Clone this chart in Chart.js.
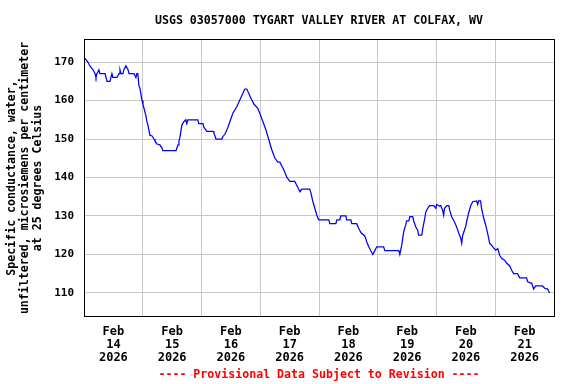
<!DOCTYPE html>
<html>
<head>
<meta charset="utf-8">
<script src="https://cdn.jsdelivr.net/npm/chart.js@4/dist/chart.umd.min.js"></script>
<style>
  html, body { margin: 0; padding: 0; background: #fff; }
  #wrap { width: 576px; height: 384px; }
</style>
</head>
<body>
<div id="wrap"><canvas id="c" width="576" height="384"></canvas></div>
<script>
// Hours since Feb 14 2026 00:00
const hours = [0,0.8,1.6,2.4,3.7,4.5,4.9,5.3,6.1,6.5,8.6,9.0,9.4,10.6,11.0,11.4,11.8,13.5,14.3,14.7,15.1,15.9,16.3,17.1,18.0,18.4,20.4,21.2,21.6,22.0,22.4,22.9,23.3,23.7,24.1,24.5,24.9,25.3,25.7,26.1,26.5,26.9,27.8,28.6,29.0,29.8,31.0,31.8,32.2,37.6,38.4,38.8,39.2,40.0,40.8,41.6,42.0,42.4,46.5,46.9,48.6,49.0,50.2,52.7,53.1,53.9,56.3,56.7,57.6,58.4,59.6,60.8,62.4,63.7,64.9,65.7,66.5,67.3,68.2,69.4,71.0,71.8,73.1,74.3,75.5,76.7,78.0,79.2,80.0,81.6,82.9,84.1,86.1,86.9,88.2,89.0,92.2,92.7,93.5,94.3,95.1,95.9,100.0,100.4,102.9,103.3,104.5,104.9,107.0,107.3,109.0,109.4,111.4,112.2,113.1,114.7,115.5,116.3,118.0,118.8,119.6,122.4,122.9,128.6,129.0,129.8,130.6,131.4,131.8,132.7,133.1,134.3,134.7,135.5,136.3,136.7,138.0,138.4,139.2,139.6,140.4,141.2,142.9,143.7,144.1,145.3,145.7,146.5,146.9,147.3,148.2,149.0,149.4,150.2,151.0,152.2,153.1,153.9,154.3,154.7,155.9,156.3,157.1,158.0,158.8,160.4,160.8,161.2,162.0,162.4,163.3,164.1,164.9,165.7,166.5,167.3,168.2,169.0,169.8,170.6,171.8,172.7,173.9,174.7,175.5,177.1,178.0,180.8,181.2,182.9,183.7,184.5,187.3,188.2,189.4,190.2];
// Specific conductance, uS/cm at 25 C
const conductance = [171.2,170.6,170,169,168,167,166,167,168,167,167,166,165,165,166,167,166,166,167,168,167,167,168,169,168,167,167,166,167,167,164,163,161.5,160,159,158,157,156,154.5,153.7,152.4,151,150.8,150,149.5,148.7,148.5,147.7,147,147,148.5,149.5,150.5,153.7,154.5,155,154,155,155,154,154,153,152,152,151.5,150,150,150.6,151.3,152.4,154.5,156.7,158.4,160.2,161.9,163,163,161.9,160.6,159.1,158,156.7,154.5,152.4,149.8,147.2,145,144,144,142,140,139,139,138,136.3,137,137,136,133.7,132,130.2,129,129,128,128,129,129,130,130,129,129,128,128,126.8,125.7,124.8,123.3,122,120,121,122,122,121,121,120,122.4,125.9,127.6,128.7,128.7,129.8,129.8,128.7,127.2,126.3,125,125,126.8,129.4,131,132,132.7,132.7,132,133,132.5,132.7,131.5,130.2,132,132.7,132.7,131.5,129.8,128.9,127.2,125.5,124.2,122.9,125,127.2,128.5,130.7,132.7,133.7,133.9,133,133.9,133.9,132,129.4,127.6,125.5,122.9,122.4,121.7,121.1,121.5,119.8,119,118.5,117.7,117,115.9,115,115,113.9,113.9,112.9,112.5,111,111.8,111.8,111.2,111,110];

const xLabelHours = [12,36,60,84,108,132,156,180];
const xLabels = [["Feb","14","2026"],["Feb","15","2026"],["Feb","16","2026"],["Feb","17","2026"],["Feb","18","2026"],["Feb","19","2026"],["Feb","20","2026"],["Feb","21","2026"]];
const yTicks = [110,120,130,140,150,160,170];

const titleText = "USGS 03057000 TYGART VALLEY RIVER AT COLFAX, WV";
const yTitleLines = ["Specific conductance, water,", "unfiltered, microsiemens per centimeter", "at 25 degrees Celsius"];
const footerText = "---- Provisional Data Subject to Revision ----";

const MONO = "'DejaVu Sans Mono', 'Liberation Mono', monospace";

const extraText = {
  id: 'extraText',
  afterDraw(chart) {
    const ctx = chart.ctx;
    const a = chart.chartArea;
    ctx.save();
    // border
    ctx.strokeStyle = '#000';
    ctx.lineWidth = 1;
    ctx.strokeRect(Math.round(a.left) + 0.5, Math.round(a.top) + 0.5, Math.round(a.right - a.left), Math.round(a.bottom - a.top));
    // title
    ctx.fillStyle = '#000';
    ctx.font = "bold 11.6px " + MONO;
    ctx.textAlign = 'center';
    ctx.textBaseline = 'middle';
    ctx.fillText(titleText, 319, 21);
    // y title
    ctx.save();
    ctx.translate(0, 178);
    ctx.rotate(-Math.PI / 2);
    ctx.font = "bold 11.6px " + MONO;
    const xs = [12, 25, 38];
    yTitleLines.forEach((t, i) => ctx.fillText(t, 0, xs[i]));
    ctx.restore();
    // footer
    ctx.fillStyle = '#ff0000';
    ctx.font = "bold 11.6px " + MONO;
    ctx.fillText(footerText, 319, 375);
    ctx.restore();
  }
};

new Chart(document.getElementById('c'), {
  type: 'line',
  data: {
    datasets: [{
      data: hours.map((h, i) => ({ x: h, y: conductance[i] })),
      borderColor: '#0000ff',
      borderWidth: 1.25,
      pointRadius: 0,
      fill: false,
      tension: 0
    }]
  },
  options: {
    responsive: false,
    animation: false,
    events: [],
    layout: { padding: { left: 0, right: 22, top: 39, bottom: 0 } },
    plugins: { legend: { display: false }, tooltip: { enabled: false }, title: { display: false } },
    scales: {
      x: {
        type: 'linear',
        min: 0,
        max: 192,
        afterBuildTicks: s => { s.ticks = xLabelHours.map(v => ({ value: v })); },
        afterFit: s => { s.height = 68; },
        grid: { color: '#c8c8c8', lineWidth: 1, offset: true, drawTicks: false },
        border: { display: false },
        ticks: {
          color: '#000',
          padding: 9,
          maxRotation: 0,
          autoSkip: false,
          font: { family: MONO, weight: 'bold', size: 12, lineHeight: 1.08 },
          callback: (v) => { const i = xLabelHours.indexOf(v); return i >= 0 ? xLabels[i] : ''; }
        }
      },
      y: {
        type: 'linear',
        min: 104,
        max: 176,
        afterBuildTicks: s => { s.ticks = yTicks.map(v => ({ value: v })); },
        afterFit: s => { s.width = 84; },
        grid: { color: '#c8c8c8', lineWidth: 1, drawTicks: false },
        border: { display: false },
        ticks: {
          color: '#000',
          padding: 10,
          font: { family: MONO, weight: 'bold', size: 11 },
          callback: v => String(v)
        }
      }
    }
  },
  plugins: [extraText]
});
</script>
</body>
</html>
